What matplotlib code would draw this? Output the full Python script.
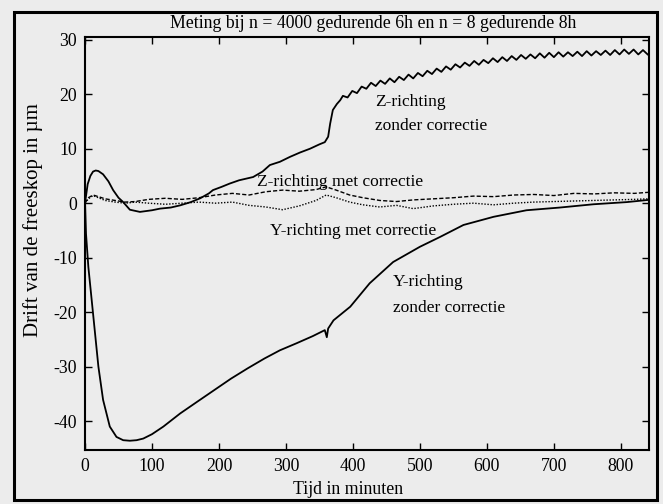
import matplotlib
matplotlib.use("Agg")
import matplotlib.pyplot as plt
from matplotlib.patches import Rectangle

plt.rcParams['font.family'] = ['Liberation Serif', 'DejaVu Serif']
plt.rcParams['axes.unicode_minus'] = False

# ---- data (time in minutes, drift in µm) ----
z_raw_t = [0, 4, 8, 12, 16, 20, 27, 35, 42, 50, 57, 67, 82, 100, 112, 128, 142, 158, 172, 185,
           191, 204, 216, 230, 251, 265, 276, 291, 306, 321, 336, 350, 358, 363, 366, 370, 376, 381,
           385, 392, 399, 406, 413, 420, 427, 434, 441, 448, 455, 462, 469, 476, 483, 490, 497, 504,
           511, 518, 525, 532, 539, 546, 553, 560, 567, 574, 581, 588, 595, 602, 609, 616, 623, 630,
           637, 644, 651, 658, 665, 672, 679, 686, 693, 700, 707, 714, 721, 728, 735, 742, 749, 756,
           763, 770, 777, 784, 791, 798, 805, 812, 819, 826, 833, 840]
z_raw_v = [0, 3.5, 5.0, 5.8, 6.0, 5.9, 5.3, 4.0, 2.4, 1.0, 0.2, -1.2, -1.6, -1.3, -1.0, -0.8, -0.4, 0.2, 0.9, 1.8,
           2.4, 3.0, 3.6, 4.2, 4.8, 5.8, 7.0, 7.6, 8.5, 9.3, 10.0, 10.8, 11.2, 12.2, 14.6, 17.1, 18.2, 18.9,
           19.7, 19.4, 20.6, 20.2, 21.4, 21.0, 22.1, 21.5, 22.5, 21.9, 22.9, 22.2, 23.2, 22.6, 23.6, 22.9, 23.9, 23.3,
           24.3, 23.7, 24.7, 24.1, 25.1, 24.5, 25.5, 24.9, 25.8, 25.2, 26.1, 25.4, 26.3, 25.7, 26.6, 25.9, 26.8, 26.1,
           27.0, 26.3, 27.2, 26.5, 27.3, 26.6, 27.5, 26.7, 27.6, 26.8, 27.7, 26.9, 27.7, 27.0, 27.8, 27.0, 27.9, 27.1,
           27.9, 27.2, 28.0, 27.2, 28.1, 27.3, 28.2, 27.4, 28.2, 27.3, 28.1, 27.3]

y_raw_t = [0, 1.5, 5, 10, 15, 20, 27, 37, 47, 57, 67, 77, 87, 100, 117, 142, 168, 193, 218, 243, 268, 291,
           316, 340, 358, 361, 363, 371, 396, 425, 460, 500, 530, 565, 610, 659, 709, 759, 809, 841]
y_raw_v = [0.5, -5.6, -11.7, -17.8, -23.9, -30, -36.1, -41.0, -42.9, -43.5, -43.6, -43.5, -43.2, -42.4, -41.0,
           -38.6, -36.4, -34.3, -32.2, -30.3, -28.5, -27.0, -25.7, -24.4, -23.3, -24.6, -23.0, -21.5, -19.0,
           -14.7, -10.8, -8.0, -6.2, -4.0, -2.5, -1.3, -0.8, -0.2, 0.2, 0.6]

corr_t = [0, 5, 12, 20, 30, 45, 60, 75, 95, 120, 145, 170, 195, 220, 245, 270, 295, 320, 345, 360,
          375, 395, 415, 440, 465, 490, 520, 550, 580, 610, 640, 670, 700, 730, 760, 790, 820, 842]
z_corr_v = [0, 1.0, 1.5, 1.2, 0.8, 0.5, 0.2, 0.3, 0.7, 0.9, 0.7, 1.0, 1.5, 1.8, 1.5, 2.1, 2.4, 2.2, 2.5, 3.0,
            2.4, 1.5, 1.0, 0.5, 0.3, 0.6, 0.8, 1.0, 1.3, 1.2, 1.5, 1.6, 1.4, 1.8, 1.7, 1.9, 1.8, 2.0]
y_corr_v = [0, 0.8, 1.4, 1.0, 0.5, 0.2, 0.0, 0.2, 0.0, -0.2, 0.0, 0.2, 0.0, 0.2, -0.4, -0.7, -1.2, -0.5, 0.5, 1.5,
            1.0, 0.2, -0.3, -0.7, -0.4, -1.0, -0.5, -0.2, 0.0, -0.3, 0.0, 0.2, 0.3, 0.4, 0.5, 0.6, 0.7, 0.8]

x_ticks = [0, 100, 200, 300, 400, 500, 600, 700, 800]
y_ticks = [30, 20, 10, 0, -10, -20, -30, -40]

title = "Meting bij n = 4000 gedurende 6h en n = 8 gedurende 8h"
xlabel = "Tijd in minuten"
ylabel = "Drift van de freeskop in µm"

bg = '#ececec'
fig = plt.figure(figsize=(6.63, 5.04), dpi=100, facecolor=bg)
ax = fig.add_axes([85/663, 1-450/504, (649-85)/663, (450-37)/504])
ax.set_facecolor(bg)

ax.plot(z_raw_t, z_raw_v, color='black', lw=1.3)
ax.plot(y_raw_t, y_raw_v, color='black', lw=1.3)
ax.plot(corr_t, z_corr_v, color='black', lw=1.0, ls=(0, (3, 1.5)))
ax.plot(corr_t, y_corr_v, color='black', lw=1.0, ls=(0, (1, 1.2)))

ax.set_xlim(0, 842)
ax.set_ylim(-45.3, 30.5)
ax.set_xticks(x_ticks)
ax.set_yticks(y_ticks)
ax.set_xticklabels([str(v) for v in x_ticks])
ax.set_yticklabels([str(v) for v in y_ticks])
ax.tick_params(direction='in', length=5, width=1, top=True, right=True,
               labelsize=12.8, pad=6)
for s in ax.spines.values():
    s.set_linewidth(1.5)

fig.text(348/663, 1-490/504, xlabel, ha='center', va='center', fontsize=12.8)
fig.text(33/663, 1-220/504, ylabel, ha='center', va='center', rotation=90, fontsize=15)
fig.text(373/663, 1-24/504, title, ha='center', va='center', fontsize=12.8)

fs = 12.5
ax.text(433, 18.6, "Z-richting", fontsize=fs, va='center')
ax.text(433, 14.1, "zonder correctie", fontsize=fs, va='center')
ax.text(257, 3.85, "Z-richting met correctie", fontsize=fs, va='center')
ax.text(276, -5.1, "Y-richting met correctie", fontsize=fs, va='center')
ax.text(460, -14.5, "Y-richting", fontsize=fs, va='center')
ax.text(460, -19.2, "zonder correctie", fontsize=fs, va='center')

fig.patches.append(Rectangle((14/663, 1-500/504), (657-14)/663, (500-12)/504,
                             transform=fig.transFigure, fill=False, edgecolor='black', lw=2.2))

fig.savefig('out.png', dpi=100, facecolor=bg)
